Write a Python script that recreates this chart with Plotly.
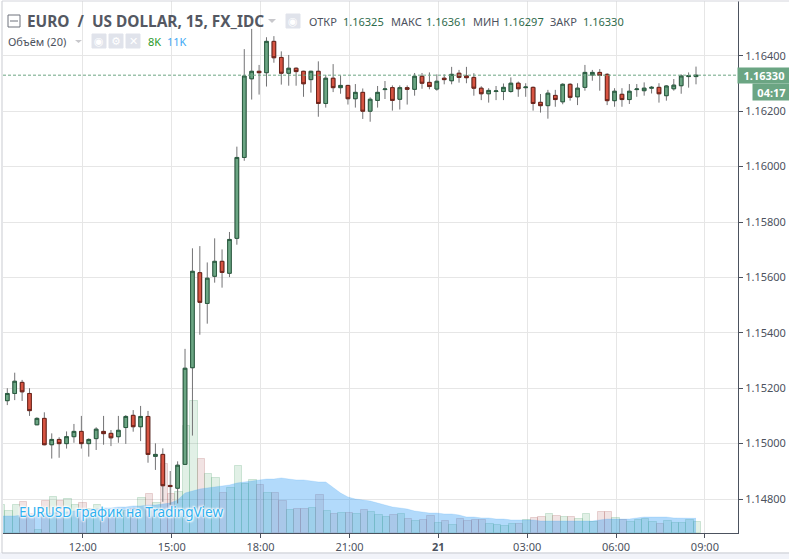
import plotly.graph_objects as go

W, H = 789, 559

# bar times, first one only shows its volume at the left edge
times = [
    "09:15", "09:30", "09:45", "10:00", "10:15", "10:30", "10:45", "11:00", "11:15", "11:30", "11:45",
    "12:00", "12:15", "12:30", "12:45", "13:00", "13:15", "13:30", "13:45", "14:00", "14:15", "14:30", "14:45",
    "15:00", "15:15", "15:30", "15:45", "16:00", "16:15", "16:30", "16:45", "17:00", "17:15", "17:30", "17:45",
    "18:00", "18:15", "18:30", "18:45", "19:00", "19:15", "19:30", "19:45", "20:00", "20:15", "20:30", "20:45",
    "21:00", "21:15", "21:30", "21:45", "22:00", "22:15", "22:30", "22:45", "23:00", "23:15", "23:30", "23:45",
    "00:00", "00:15", "00:30", "00:45", "01:00", "01:15", "01:30", "01:45", "02:00", "02:15", "02:30", "02:45",
    "03:00", "03:15", "03:30", "03:45", "04:00", "04:15", "04:30", "04:45", "05:00", "05:15", "05:30", "05:45",
    "06:00", "06:15", "06:30", "06:45", "07:00", "07:15", "07:30", "07:45", "08:00", "08:15", "08:30", "08:45",
]
axis_times = times + ["09:00"]

opens = [
    1.15155, 1.15181, 1.15221, 1.15181, 1.15068, 1.15091, 1.14996, 1.15015, 1.15000, 1.15025,
    1.15044, 1.15000, 1.15018, 1.15044, 1.15037, 1.15025, 1.15058, 1.15102, 1.15061, 1.15098,
    1.14954, 1.14961, 1.14849, 1.14839, 1.14925, 1.15274, 1.15617, 1.15506, 1.15604, 1.15658,
    1.15615, 1.15741, 1.16033, 1.16317, 1.16344, 1.16339, 1.16452, 1.16394, 1.16337, 1.16355,
    1.16344, 1.16314, 1.16344, 1.16228, 1.16319, 1.16285, 1.16293, 1.16245, 1.16268, 1.16200,
    1.16239, 1.16278, 1.16285, 1.16243, 1.16285, 1.16279, 1.16326, 1.16304, 1.16280, 1.16319,
    1.16310, 1.16337, 1.16327, 1.16322, 1.16283, 1.16263, 1.16271, 1.16271, 1.16271, 1.16301,
    1.16285, 1.16286, 1.16232, 1.16220, 1.16257, 1.16234, 1.16297, 1.16252, 1.16286, 1.16331,
    1.16340, 1.16333, 1.16238, 1.16261, 1.16242, 1.16278, 1.16274, 1.16283, 1.16286, 1.16256,
    1.16281, 1.16292, 1.16325, 1.16325,
]
highs = [
    1.15200, 1.15256, 1.15230, 1.15200, 1.15095, 1.15113, 1.15037, 1.15023, 1.15044, 1.15071,
    1.15100, 1.15019, 1.15059, 1.15100, 1.15049, 1.15100, 1.15103, 1.15121, 1.15136, 1.15118,
    1.15001, 1.14983, 1.14901, 1.14936, 1.15342, 1.15705, 1.15713, 1.15654, 1.15741, 1.15701,
    1.15764, 1.16072, 1.16424, 1.16497, 1.16367, 1.16467, 1.16471, 1.16416, 1.16403, 1.16358,
    1.16346, 1.16346, 1.16380, 1.16331, 1.16370, 1.16329, 1.16295, 1.16298, 1.16282, 1.16250,
    1.16291, 1.16309, 1.16293, 1.16293, 1.16293, 1.16338, 1.16338, 1.16340, 1.16333, 1.16333,
    1.16360, 1.16349, 1.16360, 1.16337, 1.16290, 1.16283, 1.16291, 1.16300, 1.16322, 1.16307,
    1.16301, 1.16289, 1.16262, 1.16277, 1.16277, 1.16301, 1.16301, 1.16301, 1.16367, 1.16349,
    1.16352, 1.16337, 1.16283, 1.16283, 1.16298, 1.16298, 1.16304, 1.16291, 1.16301, 1.16294,
    1.16316, 1.16333, 1.16340, 1.16361,
]
lows = [
    1.15139, 1.15157, 1.15154, 1.15100, 1.15068, 1.14994, 1.14946, 1.14949, 1.14982, 1.15003,
    1.14982, 1.14953, 1.14977, 1.14996, 1.14991, 1.15003, 1.14999, 1.15043, 1.15009, 1.14931,
    1.14905, 1.14790, 1.14778, 1.14784, 1.14925, 1.15029, 1.15393, 1.15433, 1.15581, 1.15563,
    1.15601, 1.15718, 1.16021, 1.16242, 1.16260, 1.16289, 1.16375, 1.16296, 1.16292, 1.16292,
    1.16252, 1.16267, 1.16180, 1.16213, 1.16269, 1.16263, 1.16224, 1.16213, 1.16172, 1.16162,
    1.16213, 1.16244, 1.16202, 1.16206, 1.16224, 1.16256, 1.16281, 1.16279, 1.16274, 1.16297,
    1.16297, 1.16303, 1.16301, 1.16256, 1.16240, 1.16231, 1.16240, 1.16240, 1.16267, 1.16252,
    1.16252, 1.16202, 1.16195, 1.16173, 1.16216, 1.16225, 1.16238, 1.16222, 1.16274, 1.16310,
    1.16274, 1.16222, 1.16216, 1.16216, 1.16226, 1.16252, 1.16256, 1.16264, 1.16231, 1.16238,
    1.16274, 1.16263, 1.16285, 1.16297,
]
closes = [
    1.15181, 1.15225, 1.15187, 1.15119, 1.15091, 1.14996, 1.15015, 1.15000, 1.15025, 1.15044,
    1.15000, 1.15015, 1.15052, 1.15036, 1.15021, 1.15048, 1.15098, 1.15061, 1.15098, 1.14961,
    1.14961, 1.14848, 1.14845, 1.14922, 1.15272, 1.15622, 1.15510, 1.15597, 1.15658, 1.15618,
    1.15737, 1.16033, 1.16327, 1.16344, 1.16339, 1.16452, 1.16393, 1.16337, 1.16355, 1.16343,
    1.16299, 1.16344, 1.16228, 1.16319, 1.16285, 1.16293, 1.16245, 1.16268, 1.16200, 1.16243,
    1.16268, 1.16280, 1.16239, 1.16285, 1.16279, 1.16326, 1.16301, 1.16289, 1.16308, 1.16314,
    1.16333, 1.16322, 1.16321, 1.16283, 1.16263, 1.16275, 1.16273, 1.16286, 1.16301, 1.16281,
    1.16287, 1.16228, 1.16220, 1.16265, 1.16242, 1.16297, 1.16250, 1.16283, 1.16340, 1.16340,
    1.16329, 1.16238, 1.16272, 1.16242, 1.16272, 1.16280, 1.16283, 1.16286, 1.16263, 1.16291,
    1.16294, 1.16327, 1.16328, 1.16330,
]

# thousands
volumes = [
    21, 16.5, 21, 23, 14, 2.2, 24, 27, 24, 25.5, 21,
    22.5, 18, 21, 15, 15, 16.5, 16.5, 18, 26, 29, 22.5, 52,
    29, 31, 80, 99, 55.5, 44, 41, 30, 34, 50, 37, 40,
    36, 30, 30, 24, 17, 18, 18, 19, 28.5, 16.5, 14, 15,
    15, 14, 17, 16, 13.5, 12, 13.5, 14, 10.5, 9, 10, 13,
    7.5, 9, 6, 10.5, 9, 10, 10, 7, 6, 5, 7, 7,
    10, 11, 12, 14, 13, 12, 12, 10.5, 14, 8, 16, 16,
    11, 10, 8, 10, 10.5, 8, 7, 9, 7.5, 7.5, 10, 8,
]
volume_ma = [
    12.8, 12.8, 12.8, 13.5, 13.5, 14.3, 15, 15, 15.8, 15.8, 16.5,
    17.3, 17.3, 18, 18.8, 18.8, 19.5, 19.5, 20.3, 20.3, 21, 21, 21.8,
    22.5, 24.8, 30, 31.5, 33, 33.8, 34.5, 35.3, 36, 37.5, 38.3, 39,
    39.8, 40.5, 40.5, 41.3, 40.5, 39.8, 39.8, 39, 38.3, 38.3, 33.8, 30,
    27, 25.5, 24.8, 24, 22.5, 21, 19.5, 18.8, 18, 16.5, 15.8, 15,
    15, 14.3, 14.3, 13.5, 12, 12, 11.3, 11.3, 10.5, 10.5, 9.8, 9.8,
    9.8, 9.8, 9, 9, 9, 9, 9, 9, 9, 9, 9.8, 10.5,
    10.5, 10.5, 10.5, 11.3, 12, 12, 12, 12, 11.3, 11.3, 11.3, 11,
]

price_ticks = [1.148, 1.150, 1.152, 1.154, 1.156, 1.158, 1.160, 1.162, 1.164]
time_ticks = ["12:00", "15:00", "18:00", "21:00", "00:00", "03:00", "06:00", "09:00"]
time_labels = ["12:00", "15:00", "18:00", "21:00", "<b>21</b>", "03:00", "06:00", "09:00"]

FONT = "Noto Sans"
TEXT = "#4c525e"
UP, UP_LINE = "#6ba583", "#2a5c40"
DOWN, DOWN_LINE = "#d75442", "#6b231a"
GRID = "#e6e6e6"


def px(x):
    return x / W


def py(y):
    return 1 - y / H


candle_times = times[1:]
bar_colors = ["rgba(90,170,115,0.18)"]
bar_lines = ["rgba(70,160,100,0.22)"]
for o, c in zip(opens, closes):
    bar_colors.append("rgba(90,170,115,0.18)" if c >= o else "rgba(160,70,70,0.15)")
    bar_lines.append("rgba(70,160,100,0.22)" if c >= o else "rgba(160,70,70,0.2)")

fig = go.Figure()

fig.add_trace(go.Bar(
    x=times, y=volumes, xaxis="x", yaxis="y", width=1,
    marker=dict(color=bar_colors, line=dict(color=bar_lines, width=1)),
))
fig.add_trace(go.Scatter(
    x=times, y=volume_ma, xaxis="x2", yaxis="y", mode="lines", fill="tozeroy",
    fillcolor="rgba(33,150,243,0.35)", line=dict(color="rgba(33,150,243,0.15)", width=1),
))
# wicks first, then the bodies on top because wick and border colours differ
fig.add_trace(go.Candlestick(
    x=candle_times, open=opens, high=highs, low=lows, close=closes, xaxis="x2", yaxis="y2",
    increasing=dict(line=dict(color="#737375", width=1), fillcolor=UP),
    decreasing=dict(line=dict(color="#737375", width=1), fillcolor=DOWN),
))
fig.add_trace(go.Candlestick(
    x=candle_times, open=opens, close=closes, xaxis="x2", yaxis="y2",
    high=[max(o, c) for o, c in zip(opens, closes)],
    low=[min(o, c) for o, c in zip(opens, closes)],
    increasing=dict(line=dict(color=UP_LINE, width=1), fillcolor=UP),
    decreasing=dict(line=dict(color=DOWN_LINE, width=1), fillcolor=DOWN),
))

fig.update_layout(
    width=W, height=H, margin=dict(l=0, r=0, t=0, b=0),
    paper_bgcolor="white", plot_bgcolor="white",
    showlegend=False, bargap=0, hovermode=False,
    font=dict(family=FONT, size=11, color=TEXT),
    xaxis=dict(
        type="category", categoryorder="array", categoryarray=axis_times,
        domain=[px(3), px(738)], range=[0.216, 99.47], anchor="y",
        tickmode="array", tickvals=time_ticks, ticktext=time_labels,
        showgrid=True, gridcolor=GRID, gridwidth=1.2,
        ticks="outside", ticklen=4, tickcolor=TEXT, tickfont=dict(size=11, color=TEXT),
        showline=True, linecolor=TEXT, linewidth=1, rangeslider=dict(visible=False), zeroline=False,
    ),
    xaxis2=dict(
        type="category", categoryorder="array", categoryarray=axis_times,
        domain=[px(3), px(738)], range=[0.419, 99.67], anchor="y2", overlaying="x",
        visible=False, rangeslider=dict(visible=False),
    ),
    yaxis=dict(domain=[py(533), py(1)], range=[0, 399], visible=False, anchor="x"),
    yaxis2=dict(
        domain=[py(533), py(1)], range=[1.146773, 1.165978], overlaying="y", side="right", anchor="x",
        tickmode="array", tickvals=price_ticks, tickformat=".5f",
        showgrid=True, gridcolor=GRID, gridwidth=1.2, zeroline=False,
        ticks="outside", ticklen=4, tickcolor=TEXT, tickfont=dict(size=11, color=TEXT),
        showline=True, linecolor=TEXT, linewidth=1,
    ),
)


def label(text, x, y, size=11, color=TEXT, anchor="left", **kw):
    fig.add_annotation(
        text=text, x=px(x), y=py(y), xref="paper", yref="paper", showarrow=False,
        xanchor=anchor, yanchor="middle", font=dict(family=kw.pop("family", FONT), size=size, color=color),
        borderpad=0, **kw,
    )


def box(x0, y0, x1, y1, fill="#e0e3eb", line=None):
    fig.add_shape(
        type="rect", xref="paper", yref="paper", x0=px(x0), x1=px(x1), y0=py(y0), y1=py(y1),
        fillcolor=fill, line=dict(color=line or fill, width=1), layer="above",
    )


def triangle(x0, x1, y0, y1):
    xm = (x0 + x1) / 2
    path = f"M {px(x0)} {py(y0)} L {px(x1)} {py(y0)} L {px(xm)} {py(y1)} Z"
    fig.add_shape(type="path", xref="paper", yref="paper", path=path,
                  fillcolor="#c8c8cc", line=dict(width=0), layer="above")


# current price line
fig.add_shape(type="line", xref="paper", yref="y2", x0=px(3), x1=px(738), y0=closes[-1], y1=closes[-1],
              line=dict(color=UP, width=1, dash="3px,2px"), layer="above")

# frame of the widget
box(0, 553, W, H, fill="#f1f3f9", line="#f1f3f9")
fig.add_shape(type="line", xref="paper", yref="paper", x0=px(2), x1=px(2), y0=py(1), y1=py(553),
              line=dict(color="#c9cbd1", width=1))
fig.add_shape(type="line", xref="paper", yref="paper", x0=px(2), x1=1, y0=py(1), y1=py(1),
              line=dict(color="#d4d5dc", width=1))
fig.add_shape(type="line", xref="paper", yref="paper", x0=px(2), x1=1, y0=py(553), y1=py(553),
              line=dict(color="#c9cbd1", width=1))

# price and countdown flags
fig.add_annotation(text="<b>%.5f</b>" % closes[-1], x=px(764), y=closes[-1], xref="paper", yref="y2",
                   xanchor="center", yanchor="middle", showarrow=False, bgcolor=UP, width=50, height=13,
                   font=dict(color="white", size=11))
fig.add_annotation(text="<b>04:17</b>", x=px(771.5), y=py(92), xref="paper", yref="paper",
                   xanchor="center", yanchor="middle", showarrow=False, bgcolor=UP, width=35, height=14,
                   font=dict(color="white", size=11))

# watermark
fig.add_annotation(
    text="EURUSD график на TradingView", x=px(17), y=py(512), xref="paper", yref="paper", showarrow=False,
    xanchor="left", yanchor="middle",
    font=dict(family=FONT, size=13.5, color="#2fb0f0",
              shadow="0 0 2px white, 0 0 2px white, 0 0 3px white, 1px 1px 2px white, -1px -1px 2px white"),
)

# header row one
fig.add_shape(type="rect", xref="paper", yref="paper", x0=px(8), x1=px(20), y0=py(15), y1=py(27),
              fillcolor="white", line=dict(color="#6f737c", width=1), layer="above")
fig.add_shape(type="line", xref="paper", yref="paper", x0=px(10), x1=px(18), y0=py(21), y1=py(21),
              line=dict(color="#6f737c", width=1), layer="above")
label("<b>EURO  /  US DOLLAR, 15, FX_IDC</b>", 26, 21, size=15.4, color="#545862")
triangle(268, 276, 19, 23)
box(286, 14, 300, 28)
label("◉", 293, 21, size=11, color="white", anchor="center", family="DejaVu Sans")
for text, x, color in [
    ("ОТКР", 308, TEXT), ("1.16325", 342, "#2f6b4c"), ("МАКС", 390, TEXT), ("1.16361", 425, "#2f6b4c"),
    ("МИН", 472, TEXT), ("1.16297", 502, "#2f6b4c"), ("ЗАКР", 549, TEXT), ("1.16330", 582, "#2f6b4c"),
]:
    label(text, x, 21, size=11, color=color)

# header row two
label("Объём (20)", 7, 41, size=11)
triangle(75, 82, 40, 43)
for x0, glyph in [(92, "◉"), (109, "⚙"), (126, "✕")]:
    box(x0, 34, x0 + 14, 48)
    label(glyph, x0 + 7, 41, size=11, color="white", anchor="center", family="DejaVu Sans")
label("8K", 147, 41, size=11, color="#2b9a2b")
label("11K", 166, 41, size=11, color="#3fa9f5")

fig.write_html("out.html", config=dict(displayModeBar=False),
               post_script="document.body.style.margin='0';")
